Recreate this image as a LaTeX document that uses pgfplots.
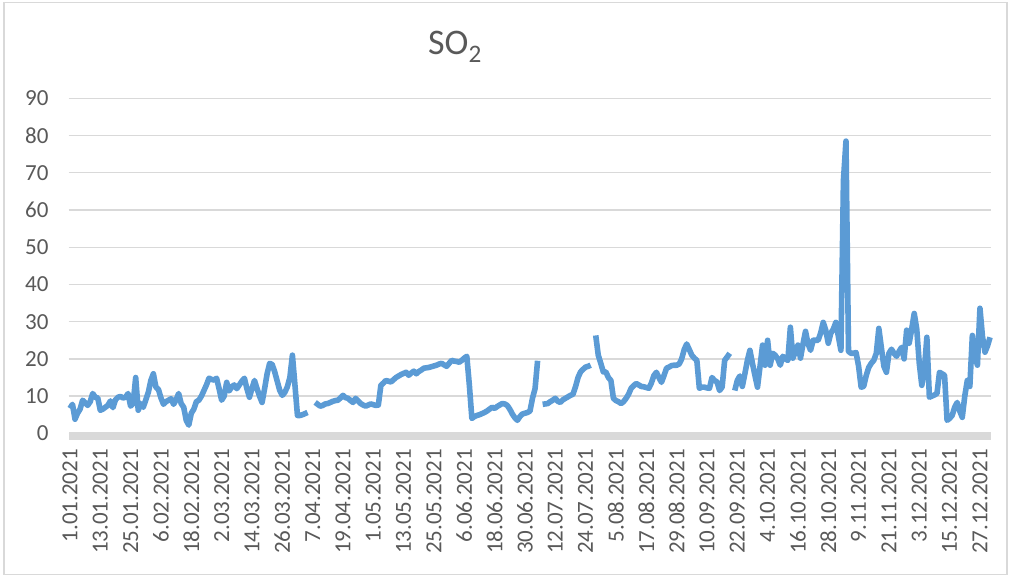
\documentclass[border=0pt]{standalone}
\usepackage{fontspec}
\setmainfont{Carlito}
\usepackage{pgfplots}
\pgfplotsset{compat=1.18}
\definecolor{so2blue}{RGB}{91,155,213}
\definecolor{gridgray}{RGB}{217,217,217}
\definecolor{txtgray}{RGB}{89,89,89}
\begin{document}
\begin{tikzpicture}[x=1bp,y=1bp]
\useasboundingbox (0,0) rectangle (1011,577);
\draw[gridgray, line width=1.5bp] (4,2.5) rectangle (1007,574.5);
\node[txtgray, font=\fontsize{36bp}{40bp}\selectfont] at (455,530) {SO\textsubscript{2}};
\begin{axis}[
  at={(68.7bp,135.1bp)}, anchor=south west,
  scale only axis, width=922.6bp, height=343.6bp,
  xmin=0.5, xmax=365.5, ymin=-2.3, ymax=90,
  axis line style={draw=none},
  major tick length=0pt,
  ytick={0,10,...,90},
  ymajorgrids, grid style={gridgray, line width=1.3bp},
  xtick={1,13,...,361},
  xticklabels={1.01.2021,13.01.2021,25.01.2021,6.02.2021,18.02.2021,2.03.2021,14.03.2021,26.03.2021,7.04.2021,19.04.2021,1.05.2021,13.05.2021,25.05.2021,6.06.2021,18.06.2021,30.06.2021,12.07.2021,24.07.2021,5.08.2021,17.08.2021,29.08.2021,10.09.2021,22.09.2021,4.10.2021,16.10.2021,28.10.2021,9.11.2021,21.11.2021,3.12.2021,15.12.2021,27.12.2021},
  tick label style={txtgray, font=\fontsize{23bp}{27bp}\selectfont},
  yticklabel style={anchor=east, inner sep=0pt, xshift=-20bp},
  xticklabel style={yshift=-7bp, rotate=90, anchor=east, inner sep=0pt},
  /pgf/number format/assume math mode=true,
  unbounded coords=jump,
  clip=false,
]
\fill[gridgray] (axis cs:0.5,0.3) rectangle (axis cs:365.5,-1.9);
\addplot[so2blue, line width=5.6bp, line join=round] table {
x y
1 6.7
2 7.8
3 3.8
4 5.4
5 6.5
6 8.9
7 8.2
8 7.5
9 8.5
10 10.7
11 9.7
12 9.5
13 6.2
14 6.5
15 7.0
16 7.5
17 8.7
18 6.9
19 9.0
20 9.7
21 9.9
22 9.5
23 9.7
24 10.7
25 7.3
26 8.0
27 15.0
28 6.2
29 8.0
30 7.0
31 9.0
32 11.0
33 14.2
34 16.0
35 12.4
36 11.8
37 9.5
38 7.8
39 8.5
40 8.9
41 9.3
42 7.8
43 9.0
44 10.7
45 8.0
46 7.0
47 3.5
48 2.2
49 5.4
50 6.5
51 8.5
52 8.9
53 10.0
54 11.5
55 13.0
56 14.8
57 14.5
58 14.3
59 14.8
60 12.0
61 8.9
62 10.0
63 13.7
64 11.4
65 12.5
66 13.0
67 12.0
68 13.0
69 14.0
70 14.8
71 12.0
72 9.7
73 12.0
74 14.2
75 12.0
76 10.0
77 8.3
78 12.0
79 16.0
80 18.8
81 18.5
82 16.5
83 14.0
84 11.5
85 10.2
86 11.0
87 12.5
88 15.0
89 21.0
90 13.0
91 4.8
92 4.8
93 5.0
94 5.3
95 5.6
96 nan
97 nan
98 8.3
99 7.8
100 7.3
101 7.5
102 7.9
103 8.0
104 8.3
105 8.6
106 8.8
107 8.9
108 9.5
109 10.2
110 9.6
111 9.4
112 8.8
113 8.3
114 9.4
115 8.7
116 8.0
117 7.6
118 7.3
119 7.6
120 7.9
121 7.7
122 7.5
123 7.6
124 12.9
125 13.5
126 14.2
127 14.0
128 13.8
129 14.4
130 15.0
131 15.4
132 15.8
133 16.1
134 16.4
135 15.6
136 16.2
137 16.7
138 16.0
139 16.6
140 17.0
141 17.5
142 17.6
143 17.7
144 17.9
145 18.1
146 18.3
147 18.6
148 18.8
149 18.4
150 18.0
151 18.8
152 19.6
153 19.4
154 19.3
155 19.1
156 19.6
157 20.2
158 20.7
159 13.0
160 4.0
161 4.5
162 4.8
163 5.0
164 5.3
165 5.6
166 6.0
167 6.5
168 7.0
169 6.7
170 7.2
171 7.6
172 8.0
173 7.9
174 7.5
175 6.5
176 5.2
177 4.2
178 3.5
179 4.5
180 5.2
181 5.4
182 5.6
183 6.0
184 9.5
185 12.0
186 19.5
187 nan
188 7.8
189 7.9
190 8.0
191 8.5
192 8.9
193 9.4
194 8.6
195 8.3
196 9.0
197 9.4
198 9.8
199 10.2
200 10.5
201 12.5
202 15.0
203 16.5
204 17.2
205 17.8
206 18.0
207 18.3
208 nan
209 26.3
210 21.0
211 18.8
212 16.5
213 16.5
214 15.0
215 14.2
216 9.4
217 8.8
218 8.5
219 8.0
220 8.5
221 9.4
222 10.5
223 12.1
224 12.8
225 13.4
226 13.0
227 12.6
228 12.5
229 12.3
230 12.1
231 13.5
232 15.5
233 16.4
234 15.0
235 13.7
236 15.5
237 17.5
238 17.8
239 18.2
240 18.3
241 18.3
242 18.6
243 20.0
244 22.5
245 24.0
246 22.5
247 21.0
248 20.2
249 19.6
250 12.1
251 12.4
252 12.4
253 12.2
254 12.1
255 15.0
256 14.2
257 13.8
258 11.5
259 12.4
260 19.6
261 20.5
262 21.5
263 nan
264 11.5
265 14.2
266 15.4
267 12.6
268 16.0
269 19.6
270 22.3
271 18.8
272 15.5
273 12.4
274 18.0
275 23.7
276 18.3
277 25.0
278 18.3
279 21.5
280 21.0
281 20.0
282 18.3
283 20.7
284 20.0
285 19.6
286 28.5
287 20.2
288 22.0
289 23.7
290 20.2
291 24.0
292 27.4
293 24.0
294 22.3
295 25.0
296 25.0
297 25.0
298 27.0
299 29.8
300 27.7
301 24.2
302 26.9
303 28.0
304 29.8
305 26.0
306 22.3
307 68.0
308 78.5
309 22.0
310 21.5
311 21.5
312 21.7
313 18.0
314 12.4
315 12.6
316 15.5
317 17.7
318 18.8
319 19.6
320 21.5
321 28.2
322 23.0
323 18.0
324 16.4
325 21.5
326 22.6
327 21.5
328 20.7
329 22.0
330 23.1
331 20.0
332 27.7
333 24.2
334 28.0
335 32.2
336 28.0
337 18.8
338 12.9
339 17.0
340 25.8
341 9.7
342 10.0
343 10.3
344 10.7
345 16.4
346 16.0
347 15.6
348 3.5
349 4.0
350 4.8
351 7.0
352 8.3
353 6.0
354 4.3
355 10.0
356 14.2
357 12.6
358 26.3
359 21.0
360 18.3
361 33.6
362 26.0
363 21.8
364 23.5
365 25.8
};
\end{axis}
\end{tikzpicture}
\end{document}
